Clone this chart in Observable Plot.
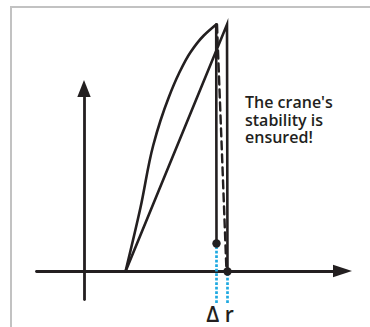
<!DOCTYPE html>
<html>
<head>
<meta charset="utf-8">
<script src="https://cdn.jsdelivr.net/npm/d3@7"></script>
<script src="https://cdn.jsdelivr.net/npm/@observablehq/plot@0.6"></script>
<style>
  html, body { margin: 0; padding: 0; background: #fff; overflow: hidden; }
  #wrap { position: relative; width: 370px; height: 327px; }
  #frame { position: absolute; left: 10px; top: 6px; width: 420px; height: 420px;
           border: 2px solid #c2c2c2; box-sizing: border-box; }
  #chart { position: absolute; left: 0; top: 0; }
</style>
</head>
<body>
<div id="wrap"><div id="frame"></div><div id="chart"></div></div>
<script>
// Axes (data units; origin at the crossing of the axes)
const xAxisLine = [[-4.8, 0], [24.9, 0]];
const yAxisLine = [[0, -2.8], [0, 17.4]];
const xArrowHead = [{x: 24.9, y1: -0.62, y2: 0.62}, {x: 26.8, y1: 0, y2: 0}];
const yArrowHead = [{y: 17.4, x1: -0.67, x2: 0.67}, {y: 19.1, x1: 0, x2: 0}];

// Curved branch (loading curve)
const curveX = [4.1, 5.6, 6.87, 7.6, 8.43, 9.43, 10.6, 11.93, 13.17];
const curveY = [0, 6.4, 12.6, 15.1, 17.43, 19.77, 21.93, 23.6, 24.7];
// Straight branch and its vertical drop
const chordX = [4.1, 14.25, 14.3];
const chordY = [0, 24.7, 0];
// Vertical drop from the curve peak
const dropX = [13.17, 13.2];
const dropY = [24.7, 2.8];
// Dashed line
const dashX = [13.25, 14.2];
const dashY = [24.7, 0];
// End points and Δr marks
const endX = [13.2, 14.3];
const endY = [2.8, 0];
const deltaBottom = -3.2;
const deltaLabel = "Δ r";
const deltaLabelPos = [13.55, -5.0];
const note = "The crane's\nstability is\nensured!";
const notePos = [16.05, 17.55];

const ink = "#231f20";
const blue = "#1ea9e1";
const zip = (xs, ys) => xs.map((x, i) => [x, ys[i]]);

const chart = Plot.plot({
  width: 370,
  height: 327,
  margin: 0,
  x: {domain: [-8.4, 28.6], axis: null},
  y: {domain: [-5.6, 27.1], axis: null},
  style: {background: "transparent", overflow: "visible"},
  marks: [
    Plot.line(xAxisLine, {stroke: ink, strokeWidth: 2.8}),
    Plot.line(yAxisLine, {stroke: ink, strokeWidth: 2.8}),
    Plot.areaY(xArrowHead, {x: "x", y1: "y1", y2: "y2", fill: ink}),
    Plot.areaX(yArrowHead, {y: "y", x1: "x1", x2: "x2", fill: ink}),
    Plot.ruleX([
      {x: endX[0], y1: deltaBottom, y2: endY[0]},
      {x: endX[1], y1: deltaBottom, y2: endY[1]}
    ], {x: "x", y1: "y1", y2: "y2", stroke: blue, strokeWidth: 2.7, strokeDasharray: "2.7,1.8"}),
    Plot.line(zip(curveX, curveY), {curve: "monotone-y", stroke: ink, strokeWidth: 2.6}),
    Plot.line(zip(chordX, chordY), {stroke: ink, strokeWidth: 2.6, strokeLinejoin: "miter", strokeMiterlimit: 20}),
    Plot.line(zip(dropX, dropY), {stroke: ink, strokeWidth: 2.6}),
    Plot.line(zip(dashX, dashY), {stroke: ink, strokeWidth: 2.4, strokeDasharray: "8,5"}),
    Plot.dot(zip(endX, endY), {r: 4.2, fill: ink, stroke: "none"}),
    Plot.text([deltaLabel], {x: deltaLabelPos[0], y: deltaLabelPos[1], text: d => d,
      fontSize: 21, fontWeight: 600, fill: ink, fontFamily: "Open Sans", textAnchor: "middle", lineAnchor: "bottom"}),
    Plot.text([note], {x: notePos[0], y: notePos[1], text: d => d, fontSize: 16, fontWeight: 600, lineHeight: 1.09,
      fill: ink, fontFamily: "Open Sans", textAnchor: "start", lineAnchor: "top"})
  ]
});
document.getElementById("chart").appendChild(chart);
</script>
</body>
</html>
